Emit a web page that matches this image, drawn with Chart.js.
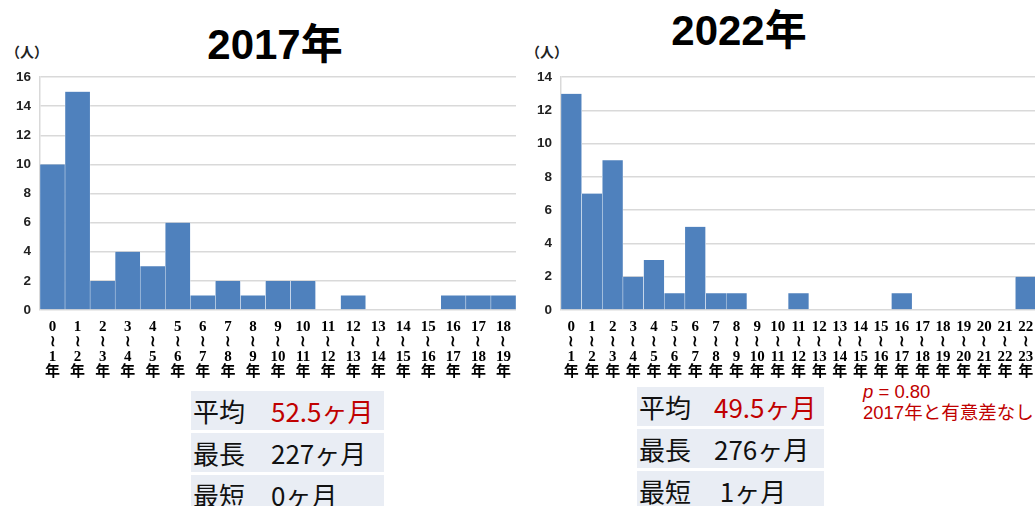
<!DOCTYPE html>
<html>
<head>
<meta charset="utf-8">
<script src="https://cdn.jsdelivr.net/npm/chart.js@4.4.0/dist/chart.umd.min.js"></script>
<style>
  html, body { margin: 0; padding: 0; background: #fff; overflow: hidden; }
  body { width: 1035px; height: 506px; position: relative; font-family: "Noto Sans CJK JP", sans-serif; }
  .box { position: absolute; }
  .title { position: absolute; font: bold 42px "Liberation Sans", "Noto Sans CJK JP", sans-serif; color: #000; white-space: nowrap; transform: translateX(-50%); }
  .unit { position: absolute; font: bold 14px "Noto Sans CJK JP", sans-serif; color: #222; }
  .stats { position: absolute; border-collapse: separate; border-spacing: 0 3px; }
  .stats td { background: #e9edf4; font: 26px "Noto Sans CJK JP", sans-serif; color: #111; padding: 0; height: 39px; line-height: 39px; white-space: nowrap; }
  .stats td.k { padding-left: 2px; }
  .stats .red { color: #c00000; }
  .note { position: absolute; color: #c00000; font: 18.5px "Liberation Sans", "Noto Sans CJK JP", sans-serif; line-height: 21px; white-space: nowrap; }
</style>
</head>
<body>
<div class="title" style="left:275px;top:10px;">2017年</div>
<div class="title" style="left:739px;top:-4px;">2022年</div>
<div class="unit" style="left:6px;top:41px;">（人）</div>
<div class="unit" style="left:526px;top:41px;">（人）</div>

<div class="box" style="left:0;top:60px;width:525px;height:320px;"><canvas id="chart2017"></canvas></div>
<div class="box" style="left:520px;top:60px;width:520px;height:320px;"><canvas id="chart2022"></canvas></div>

<table class="stats" style="left:191px;top:388px;width:193px;">
  <tr><td class="k" style="width:78px;">平均</td><td class="red">52.5ヶ月</td></tr>
  <tr><td class="k">最長</td><td>227ヶ月</td></tr>
  <tr><td class="k">最短</td><td>0ヶ月</td></tr>
</table>
<table class="stats" style="left:637px;top:384px;width:187px;">
  <tr><td class="k" style="width:75px;">平均</td><td class="red">49.5ヶ月</td></tr>
  <tr><td class="k">最長</td><td>276ヶ月</td></tr>
  <tr><td class="k">最短</td><td>&nbsp;1ヶ月</td></tr>
</table>
<div class="note" style="left:863px;top:381px;"><i>p</i> = 0.80<br>2017年と有意差なし</div>

<script>
// 期間（年）ごとの人数
const labels2017 = ["0","1","2","3","4","5","6","7","8","9","10","11","12","13","14","15","16","17","18"]
const counts2017 = [10, 15, 2, 4, 3, 6, 1, 2, 1, 2, 2, 0, 1, 0, 0, 0, 1, 1, 1]

const labels2022 = ["0","1","2","3","4","5","6","7","8","9","10","11","12","13","14","15","16","17","18","19","20","21","22"]
const counts2022 = [13, 7, 9, 2, 3, 1, 5, 1, 1, 0, 0, 1, 0, 0, 0, 0, 1, 0, 0, 0, 0, 0, 2]

const yMax2017 = 16
const yMax2022 = 14

// "0" -> ["0","≀","1","年"]
function rangeLabel(start){
    return [start, "≀", String(Number(start) + 1), "年"]
}

function renderHistogram(canvasId, labels, counts, yMax, yWidth, padRight){
    const ctx = document.getElementById(canvasId).getContext("2d")
    return new Chart(ctx, {
        type: 'bar',
        data: {
            labels: labels.map(rangeLabel),
            datasets: [{
                data: counts,
                backgroundColor: '#4f81bd',
                borderColor: '#ffffff',
                borderWidth: {left: 0.5, right: 0.5, top: 0, bottom: 0},
                categoryPercentage: 1,
                barPercentage: 1
            }]
        },
        options: {
            responsive: true,
            maintainAspectRatio: false,
            animation: false,
            layout: { padding: {top: 16, right: padRight, left: 0, bottom: 0} },
            scales: {
                x: {
                    grid: { display: false },
                    border: { display: false },
                    ticks: {
                        autoSkip: false,
                        maxRotation: 0,
                        minRotation: 0,
                        padding: 2,
                        color: '#000',
                        font: { family: '"Liberation Serif", "Noto Sans CJK JP", serif', size: 15, weight: 'bold', lineHeight: 1.0 }
                    },
                    afterFit: (scale) => { scale.height = 70 }
                },
                y: {
                    min: 0,
                    max: yMax,
                    grid: { color: '#d9d9d9', lineWidth: 1.5, drawTicks: false },
                    border: { display: true, color: '#d9d9d9', width: 1.5 },
                    ticks: {
                        stepSize: 2,
                        padding: 9,
                        color: '#222',
                        font: { family: '"Liberation Sans", sans-serif', size: 13.5, weight: 'bold' }
                    },
                    afterFit: (scale) => { scale.width = yWidth }
                }
            },
            plugins: {
                legend: { display: false },
                tooltip: { enabled: false }
            }
        }
    })
}

document.addEventListener('DOMContentLoaded', () => {
    renderHistogram("chart2017", labels2017, counts2017, yMax2017, 40, 9)
    renderHistogram("chart2022", labels2022, counts2022, yMax2022, 41, 4)
})
</script>
</body>
</html>
